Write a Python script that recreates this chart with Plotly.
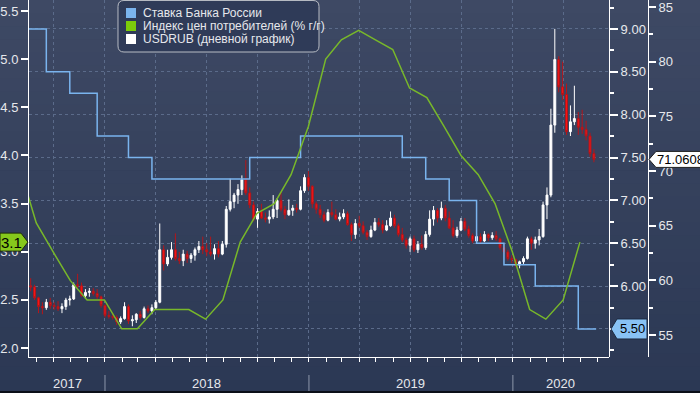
import plotly.graph_objects as go
import pandas as pd

# ---------------- data ----------------
rate_dates = ['2017-06-19', '2017-09-18', '2017-10-30', '2017-12-18', '2018-02-12', '2018-03-26',
              '2018-09-17', '2018-12-17', '2019-06-17', '2019-07-29', '2019-09-09', '2019-10-28',
              '2019-12-16', '2020-02-10', '2020-04-27', '2020-05-29']
rate_values = [9.00, 8.50, 8.25, 7.75, 7.50, 7.25,
               7.50, 7.75, 7.50, 7.25, 7.00, 6.50,
               6.25, 6.00, 5.50, 5.50]

cpi_first_month_end = '2017-07-31'
cpi_values = [3.9, 3.3, 3.0, 2.7, 2.5, 2.5,
              2.2, 2.2, 2.4, 2.4, 2.4, 2.3, 2.5, 3.1, 3.4, 3.5, 3.8, 4.3,
              5.0, 5.2, 5.3, 5.2, 5.1, 4.7, 4.6, 4.3, 4.0, 3.8, 3.5, 3.0,
              2.4, 2.3, 2.5, 3.1]

usd_first_week = '2017-08-14'
usd_open = [59.8, 59.5, 59.4, 58.4, 57.6, 57.5, 58.0, 57.7, 57.6, 57.4,
            57.6, 58.2, 58.3, 59.6, 59.5, 58.6, 58.9, 59.0, 58.8, 58.5,
            57.7, 56.8, 56.7, 56.6, 56.2, 56.5, 57.6, 56.3, 56.4, 56.9,
            56.6, 57.4, 57.2, 57.5, 58.0, 62.8, 61.5, 62.1, 62.8, 62.0,
            61.8, 62.4, 62.0, 62.3, 62.8, 63.1, 62.8, 62.6, 62.4, 62.9,
            62.4, 63.3, 66.5, 67.2, 67.8, 68.3, 69.2, 68.0, 66.9, 65.6,
            66.3, 65.7, 65.6, 65.8, 66.5, 67.3, 66.5, 66.0, 66.4, 66.6,
            66.5, 68.2, 69.4, 68.6, 67.0, 66.5, 66.0, 65.5, 66.2, 66.0,
            65.6, 65.8, 66.1, 65.1, 64.2, 65.2, 65.0, 64.4, 64.0, 64.6,
            65.3, 65.1, 64.6, 65.0, 65.7, 65.0, 64.2, 63.7, 63.2, 63.8,
            62.8, 63.3, 63.0, 64.2, 65.6, 66.4, 65.7, 66.6, 65.7, 64.8,
            64.1, 64.6, 65.4, 64.7, 64.1, 63.6, 64.0, 63.6, 64.2, 63.9,
            64.1, 63.8, 63.0, 62.6, 62.0, 61.9, 61.4, 61.7, 62.0, 63.8,
            63.4, 63.7, 64.0, 66.9, 67.8, 74.2, 80.2, 77.7, 77.0, 73.6,
            74.5, 74.8, 74.0, 73.8, 73.2, 71.6]
usd_high = [60.3, 60.2, 59.6, 58.5, 58.0, 58.3, 58.4, 58.0, 58.1, 57.9,
            58.4, 58.6, 59.8, 60.6, 59.8, 59.2, 59.3, 59.3, 59.2, 58.6,
            57.8, 57.2, 57.0, 56.8, 56.7, 58.0, 57.8, 56.8, 57.0, 57.2,
            57.6, 57.7, 57.8, 58.2, 65.2, 63.2, 62.8, 63.5, 64.3, 62.6,
            62.8, 62.7, 62.5, 63.0, 63.6, 64.0, 63.4, 64.0, 63.3, 63.6,
            63.6, 66.8, 69.3, 68.0, 68.8, 69.6, 71.0, 68.5, 67.2, 66.6,
            67.0, 66.2, 66.4, 67.8, 67.5, 68.1, 66.8, 67.4, 66.9, 67.0,
            68.6, 69.7, 70.0, 68.7, 67.2, 66.9, 66.3, 66.5, 67.2, 66.5,
            66.2, 66.5, 66.3, 65.3, 65.6, 65.9, 65.4, 64.6, 65.0, 65.7,
            65.7, 65.5, 65.5, 66.3, 66.0, 65.2, 64.8, 63.9, 64.0, 64.1,
            63.6, 64.1, 64.5, 66.4, 66.8, 66.6, 67.2, 66.9, 66.3, 65.5,
            64.9, 65.7, 65.7, 65.0, 64.3, 64.3, 64.3, 64.5, 64.3, 64.4,
            64.5, 63.9, 63.3, 62.8, 62.3, 62.0, 61.8, 62.2, 64.0, 64.0,
            64.0, 64.7, 67.2, 68.5, 75.7, 83.0, 80.5, 80.0, 78.0, 76.0,
            77.8, 75.4, 75.6, 74.6, 73.5, 72.0]
usd_low = [59.3, 59.0, 58.2, 57.0, 56.9, 57.3, 57.4, 57.3, 57.2, 57.0,
           57.3, 57.7, 58.2, 59.3, 58.5, 58.3, 58.5, 58.6, 58.3, 57.5,
           56.6, 56.5, 56.4, 55.9, 56.0, 56.4, 56.0, 55.8, 56.1, 56.4,
           56.5, 57.0, 56.9, 57.3, 57.9, 60.9, 61.3, 61.9, 61.8, 61.5,
           61.3, 61.6, 61.6, 61.8, 62.5, 62.4, 62.2, 62.2, 61.9, 62.1,
           62.3, 63.0, 66.3, 66.6, 67.0, 67.8, 67.8, 66.6, 65.4, 64.8,
           65.6, 65.3, 65.2, 65.6, 65.7, 66.3, 65.6, 65.9, 65.9, 66.2,
           66.4, 68.0, 68.2, 66.6, 66.1, 65.7, 65.3, 65.4, 65.8, 65.5,
           65.4, 65.6, 65.0, 63.6, 63.8, 64.8, 64.2, 63.7, 63.9, 64.5,
           64.9, 64.3, 64.5, 64.9, 64.8, 64.0, 63.5, 62.9, 62.6, 62.6,
           62.5, 62.8, 62.8, 64.0, 65.0, 65.3, 65.5, 65.4, 64.7, 63.9,
           63.9, 64.5, 64.5, 63.9, 63.4, 63.5, 63.4, 63.5, 63.6, 63.7,
           63.6, 62.8, 62.4, 61.8, 61.6, 61.2, 61.1, 61.5, 61.9, 62.8,
           62.9, 63.2, 63.9, 65.6, 67.6, 73.5, 77.2, 76.5, 73.3, 73.2,
           74.2, 73.3, 73.4, 72.8, 71.3, 70.8]
usd_close = [59.5, 59.4, 58.4, 57.6, 57.5, 58.0, 57.7, 57.6, 57.4, 57.6,
             58.2, 58.3, 59.6, 59.5, 58.6, 58.9, 59.0, 58.8, 58.5, 57.7,
             56.8, 56.7, 56.6, 56.2, 56.5, 57.6, 56.3, 56.4, 56.9, 56.6,
             57.4, 57.2, 57.5, 58.0, 62.8, 61.5, 62.1, 62.8, 62.0, 61.8,
             62.4, 62.0, 62.3, 62.8, 63.1, 62.8, 62.6, 62.4, 62.9, 62.4,
             63.3, 66.5, 67.2, 67.8, 68.3, 69.2, 68.0, 66.9, 65.6, 66.3,
             65.7, 65.6, 65.8, 66.5, 67.3, 66.5, 66.0, 66.4, 66.6, 66.5,
             68.2, 69.4, 68.6, 67.0, 66.5, 66.0, 65.5, 66.2, 66.0, 65.6,
             65.8, 66.1, 65.1, 64.2, 65.2, 65.0, 64.4, 64.0, 64.6, 65.3,
             65.1, 64.6, 65.0, 65.7, 65.0, 64.2, 63.7, 63.2, 63.8, 62.8,
             63.3, 63.0, 64.2, 65.6, 66.4, 65.7, 66.6, 65.7, 64.8, 64.1,
             64.6, 65.4, 64.7, 64.1, 63.6, 64.0, 63.6, 64.2, 63.9, 64.1,
             63.8, 63.0, 62.6, 62.0, 61.9, 61.4, 61.7, 62.0, 63.8, 63.4,
             63.7, 64.0, 66.9, 67.8, 74.2, 80.2, 77.7, 77.0, 73.6, 74.5,
             74.8, 74.0, 73.8, 73.2, 71.6, 71.0608]

year_labels = ['2017', '2018', '2019', '2020']
legend_names = ['Ставка Банка России', 'Индекс цен потребителей (% г/г)', 'USDRUB (дневной график)']

# ---------------- styling / geometry ----------------
W, H = 700, 393
PL, PR, PT, PB = 29, 648, 0, 357
MID = 609
X_RANGE = ['2017-08-18', '2020-06-21']
CPI_RANGE = [1.907, 5.614]
RATE_RANGE = [5.173, 9.338]
USD_RANGE = [52.99, 85.64]

C_RATE = '#7ab4ee'
C_CPI = '#78b82a'
C_TXT = '#e6e8ec'
C_GRID = '#5b6b8a'
FONT = 'Liberation Sans'


def fx(p):
    return (p - PL) / (PR - PL)


def fy(p):
    return (PB - p) / (PB - PT)


def vpy(v, rng):
    return PB - (v - rng[0]) / (rng[1] - rng[0]) * (PB - PT)


def poly(points):
    return 'M ' + ' L '.join(f'{fx(x):.5f},{fy(y):.5f}' for x, y in points) + ' Z'


usd_dates = pd.date_range(usd_first_week, periods=len(usd_close), freq='7D')
cpi_dates = pd.date_range(cpi_first_month_end, periods=len(cpi_values), freq=pd.offsets.MonthEnd())

fig = go.Figure()
fig.add_trace(go.Candlestick(
    x=usd_dates, open=usd_open, high=usd_high, low=usd_low, close=usd_close,
    yaxis='y',
    increasing=dict(line=dict(color='#ffffff', width=1), fillcolor='#ffffff'),
    decreasing=dict(line=dict(color='#b3161b', width=1), fillcolor='#ff1414'),
    whiskerwidth=0, showlegend=False, hoverinfo='skip'))
fig.add_trace(go.Scatter(x=rate_dates, y=rate_values, yaxis='y2', mode='lines',
                         line=dict(color=C_RATE, width=1.5, shape='hv'), hoverinfo='skip'))
fig.add_trace(go.Scatter(x=cpi_dates, y=cpi_values, yaxis='y3', mode='lines',
                         line=dict(color=C_CPI, width=1.5), hoverinfo='skip'))

tickfont = dict(family=FONT, size=13, color=C_TXT)
xdom = [0, (MID - PL) / (PR - PL)]

fig.update_layout(
    width=W, height=H,
    margin=dict(l=PL, r=W - PR, t=PT, b=H - PB, pad=0),
    paper_bgcolor='#2c3955', plot_bgcolor='rgba(0,0,0,0)',
    showlegend=False,
    font=dict(family=FONT, color=C_TXT),
    xaxis=dict(domain=xdom, type='date', range=X_RANGE, showticklabels=False,
               ticks='outside', ticklen=4, tickcolor='white', tickwidth=1,
               dtick='M3', tick0='2017-10-01',
               showgrid=True, gridcolor=C_GRID, griddash='3px,3px', gridwidth=1,
               showline=True, linecolor='white', linewidth=1, zeroline=False,
               rangeslider=dict(visible=False), anchor='y',
               minor=dict(dtick='M1', tick0='2017-09-01', ticks='outside', ticklen=4,
                          tickcolor='white', showgrid=False)),
    yaxis=dict(range=USD_RANGE, anchor='free', position=1.0, side='right',
               dtick=5, tick0=55, ticks='outside', ticklen=7, tickwidth=2, tickcolor='white',
               tickfont=tickfont, showgrid=False, zeroline=False, ticklabeloverflow='allow',
               showline=True, linecolor='white', linewidth=1, automargin=False,
               minor=dict(dtick=2.5, tick0=55, ticks='outside', ticklen=4, tickcolor='white')),
    yaxis2=dict(range=RATE_RANGE, overlaying='y', anchor='free', position=xdom[1], side='right',
                dtick=0.5, tick0=5.5, tickformat='.2f', ticks='outside', ticklen=8, tickwidth=2,
                tickcolor='white', tickfont=tickfont, ticklabeloverflow='allow',
                showgrid=True, gridcolor=C_GRID, griddash='3px,3px', gridwidth=1, zeroline=False,
                showline=True, linecolor='white', linewidth=1, automargin=False,
                minor=dict(dtick=0.25, tick0=5.5, ticks='outside', ticklen=4, tickcolor='white')),
    yaxis3=dict(range=CPI_RANGE, overlaying='y', anchor='x', side='left',
                dtick=0.5, tick0=2.0, tickformat='.1f', ticks='outside', ticklen=7, tickwidth=2,
                tickcolor='white', tickfont=tickfont, showgrid=False, zeroline=False,
                ticklabeloverflow='allow',
                showline=True, linecolor='white', linewidth=1, automargin=False),
)

shapes = []
annotations = []

# background gradient
N = 30
top_c, bot_c = (62, 73, 100), (43, 56, 84)
for i in range(N):
    t = (i + 0.5) / N
    c = tuple(round(top_c[k] + (bot_c[k] - top_c[k]) * t) for k in range(3))
    shapes.append(dict(type='rect', xref='paper', yref='paper', layer='below',
                       x0=fx(0), x1=fx(W), y0=fy((i + 1) * H / N + 0.5), y1=fy(i * H / N),
                       fillcolor=f'rgb{c}', line=dict(width=0)))

# year band
xs = pd.Timestamp(X_RANGE[0])
xe = pd.Timestamp(X_RANGE[1])
for lab in year_labels:
    ys = max(pd.Timestamp(f'{lab}-01-01'), xs)
    ye = min(pd.Timestamp(f'{int(lab) + 1}-01-01'), xe)
    mid = ys + (ye - ys) / 2
    annotations.append(dict(x=mid, xref='x', y=fy(383), yref='paper', text=lab, showarrow=False,
                            xanchor='center', yanchor='middle',
                            font=dict(family=FONT, size=13, color=C_TXT)))
    if pd.Timestamp(f'{lab}-01-01') > xs:
        shapes.append(dict(type='line', xref='x', yref='paper', x0=f'{lab}-01-01', x1=f'{lab}-01-01',
                           y0=fy(375), y1=fy(394), line=dict(color='#8d97aa', width=1)))
shapes.append(dict(type='rect', xref='paper', yref='paper', x0=fx(0), x1=fx(W), y0=fy(396), y1=fy(391),
                   fillcolor='#0b0f18', line=dict(width=0)))

# value tags
cv = cpi_values[-1]
cy = vpy(cv, CPI_RANGE)
shapes.append(dict(type='path', xref='paper', yref='paper',
                   path=poly([(0, cy - 9), (21, cy - 9), (28, cy), (21, cy + 9), (0, cy + 9)]),
                   fillcolor='#86c81c', line=dict(color='#1d2a0b', width=1)))
annotations.append(dict(x=fx(11), y=fy(cy), xref='paper', yref='paper', text=f'{cv:.1f}',
                        showarrow=False, xanchor='center', yanchor='middle',
                        font=dict(family=FONT, size=15, color='#000000')))

rv = rate_values[-1]
ry = vpy(rv, RATE_RANGE)
shapes.append(dict(type='path', xref='paper', yref='paper',
                   path=poly([(611, ry), (617, ry - 10), (647, ry - 10), (647, ry + 10), (617, ry + 10)]),
                   fillcolor='#88c2f4', line=dict(color='#1c2a40', width=1)))
annotations.append(dict(x=fx(632), y=fy(ry), xref='paper', yref='paper', text=f'{rv:.2f}',
                        showarrow=False, xanchor='center', yanchor='middle',
                        font=dict(family=FONT, size=13, color='#000000')))

uv = usd_close[-1]
uy = vpy(uv, USD_RANGE)
shapes.append(dict(type='path', xref='paper', yref='paper',
                   path=poly([(649, uy), (656, uy - 8), (706, uy - 8), (706, uy + 8), (656, uy + 8)]),
                   fillcolor='#ffffff', line=dict(color='#202020', width=1)))
annotations.append(dict(x=fx(655), y=fy(uy), xref='paper', yref='paper', text=f'{uv:.4f}',
                        showarrow=False, xanchor='left', yanchor='middle',
                        font=dict(family=FONT, size=13, color='#000000')))

# legend box
bx0, bx1, by0, by1, r = 118, 319, 0.5, 52, 6
lp = (f'M {fx(bx0 + r):.5f},{fy(by0):.5f} L {fx(bx1 - r):.5f},{fy(by0):.5f} '
      f'Q {fx(bx1):.5f},{fy(by0):.5f} {fx(bx1):.5f},{fy(by0 + r):.5f} '
      f'L {fx(bx1):.5f},{fy(by1 - r):.5f} Q {fx(bx1):.5f},{fy(by1):.5f} {fx(bx1 - r):.5f},{fy(by1):.5f} '
      f'L {fx(bx0 + r):.5f},{fy(by1):.5f} Q {fx(bx0):.5f},{fy(by1):.5f} {fx(bx0):.5f},{fy(by1 - r):.5f} '
      f'L {fx(bx0):.5f},{fy(by0 + r):.5f} Q {fx(bx0):.5f},{fy(by0):.5f} {fx(bx0 + r):.5f},{fy(by0):.5f} Z')
shapes.append(dict(type='path', xref='paper', yref='paper', path=lp,
                   fillcolor='#2f3b58', line=dict(color='#b8bcc4', width=1)))
leg_colors = [C_RATE, '#7ccc0a', '#ffffff']
for i, (name, col) in enumerate(zip(legend_names, leg_colors)):
    yc = 13 + i * 13
    shapes.append(dict(type='rect', xref='paper', yref='paper', x0=fx(126), x1=fx(136),
                       y0=fy(yc + 5), y1=fy(yc - 5), fillcolor=col, line=dict(width=0)))
    annotations.append(dict(x=fx(141), y=fy(yc), xref='paper', yref='paper', text=name,
                            showarrow=False, xanchor='left', yanchor='middle',
                            font=dict(family=FONT, size=12, color=C_TXT)))

fig.update_layout(shapes=shapes, annotations=annotations)
fig.write_html('out.html', config={'displayModeBar': False},
               post_script="document.body.style.margin='0';document.body.style.overflow='hidden';")
